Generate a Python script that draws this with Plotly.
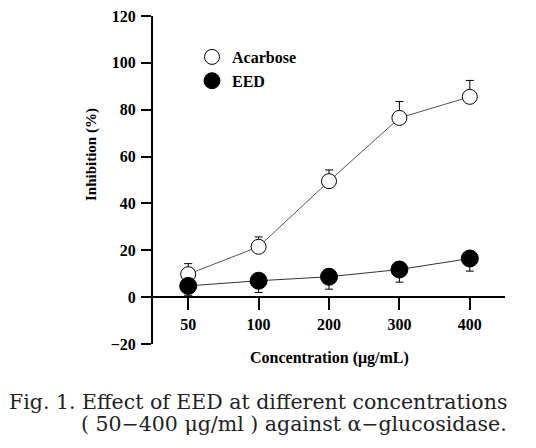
import plotly.graph_objects as go

categories = ["50", "100", "200", "300", "400"]
acarbose = [9.8, 21.5, 49.5, 76.5, 85.5]
acarbose_err = [4.5, 4.2, 4.8, 7.0, 7.0]
eed = [4.8, 7.0, 8.7, 11.8, 16.5]
eed_err = [4.0, 5.0, 5.3, 5.4, 5.4]
y_ticks = [-20, 0, 20, 40, 60, 80, 100, 120]

SERIF = "Liberation Serif"
x_idx = list(range(len(categories)))

fig = go.Figure()
# connecting lines (no legend)
fig.add_trace(go.Scatter(x=x_idx, y=acarbose, mode="lines", showlegend=False,
                         line=dict(color="#555555", width=1), hoverinfo="skip"))
fig.add_trace(go.Scatter(x=x_idx, y=eed, mode="lines", showlegend=False,
                         line=dict(color="#333333", width=1), hoverinfo="skip"))
# markers with error bars
fig.add_trace(go.Scatter(
    x=x_idx, y=acarbose, name="Acarbose", mode="markers",
    marker=dict(symbol="circle", size=15, color="white",
                line=dict(color="black", width=1)),
    error_y=dict(type="data", symmetric=False, array=acarbose_err,
                 arrayminus=[0] * 5, color="black", thickness=1, width=4),
))
fig.add_trace(go.Scatter(
    x=x_idx, y=eed, name="EED", mode="markers",
    marker=dict(symbol="circle", size=17, color="black",
                line=dict(color="black", width=1)),
    error_y=dict(type="data", symmetric=False, array=[0] * 5,
                 arrayminus=eed_err, color="black", thickness=1, width=4),
))

W, H = 536, 448
L, R, T, B = 153, 31, 16, 104
fig.update_layout(
    width=W, height=H,
    margin=dict(l=L, r=R, t=T, b=B, autoexpand=False),
    paper_bgcolor="white", plot_bgcolor="white",
    font=dict(family=SERIF, color="black", size=14),
    showlegend=True,
    legend=dict(x=(192 - L) / (W - L - R), y=1 - (40 - T) / (H - T - B),
                xanchor="left", yanchor="top",
                font=dict(family=SERIF, size=16, color="black", weight="bold"),
                bgcolor="rgba(0,0,0,0)"),
    xaxis=dict(
        range=[-0.5, 4.5], tickmode="array", tickvals=x_idx, ticktext=categories,
        tickson="boundaries", ticks="outside", ticklen=12, tickwidth=2,
        tickcolor="black", showline=True, linewidth=2, linecolor="black",
        showgrid=False, zeroline=False, anchor="free", position=20 / 140,
        tickfont=dict(family=SERIF, size=16, color="black", weight="bold"),
        ticklabelstandoff=1, automargin=False,
    ),
    yaxis=dict(
        range=[-20, 120], tickvals=y_ticks, ticks="outside", ticklen=10,
        tickwidth=2, tickcolor="black", showline=True, linewidth=2,
        linecolor="black", showgrid=False, zeroline=False,
        tickfont=dict(family=SERIF, size=16, color="black", weight="bold"),
        ticklabelstandoff=2, automargin=False,
    ),
)

def px_x(p):
    return (p - L) / (W - L - R)

def px_y(p):
    return 1 - (p - T) / (H - T - B)

fig.add_annotation(text="<b>Inhibition (%)</b>", xref="paper", yref="paper",
                   x=px_x(91), y=px_y(155), xanchor="center", yanchor="middle",
                   textangle=-90, showarrow=False,
                   font=dict(family=SERIF, size=15, color="black"))
fig.add_annotation(text="<b>Concentration (μg/mL)</b>", xref="paper", yref="paper",
                   x=px_x(329), y=px_y(358), xanchor="center", yanchor="middle",
                   showarrow=False,
                   font=dict(family=SERIF, size=16, color="black"))
fig.add_annotation(text="Fig. 1. Effect of EED at different concentrations",
                   xref="paper", yref="paper", x=px_x(509), y=px_y(402),
                   xanchor="right", yanchor="middle", showarrow=False,
                   font=dict(family="DejaVu Serif", size=20.5, color="#222222"))
fig.add_annotation(text="( 50−400 μg/ml ) against α−glucosidase.",
                   xref="paper", yref="paper", x=px_x(509), y=px_y(424),
                   xanchor="right", yanchor="middle", showarrow=False,
                   font=dict(family="DejaVu Serif", size=20.5, color="#222222"))

fig.write_html("out.html", config={"displayModeBar": False},
               post_script="document.body.style.margin='0px';")
